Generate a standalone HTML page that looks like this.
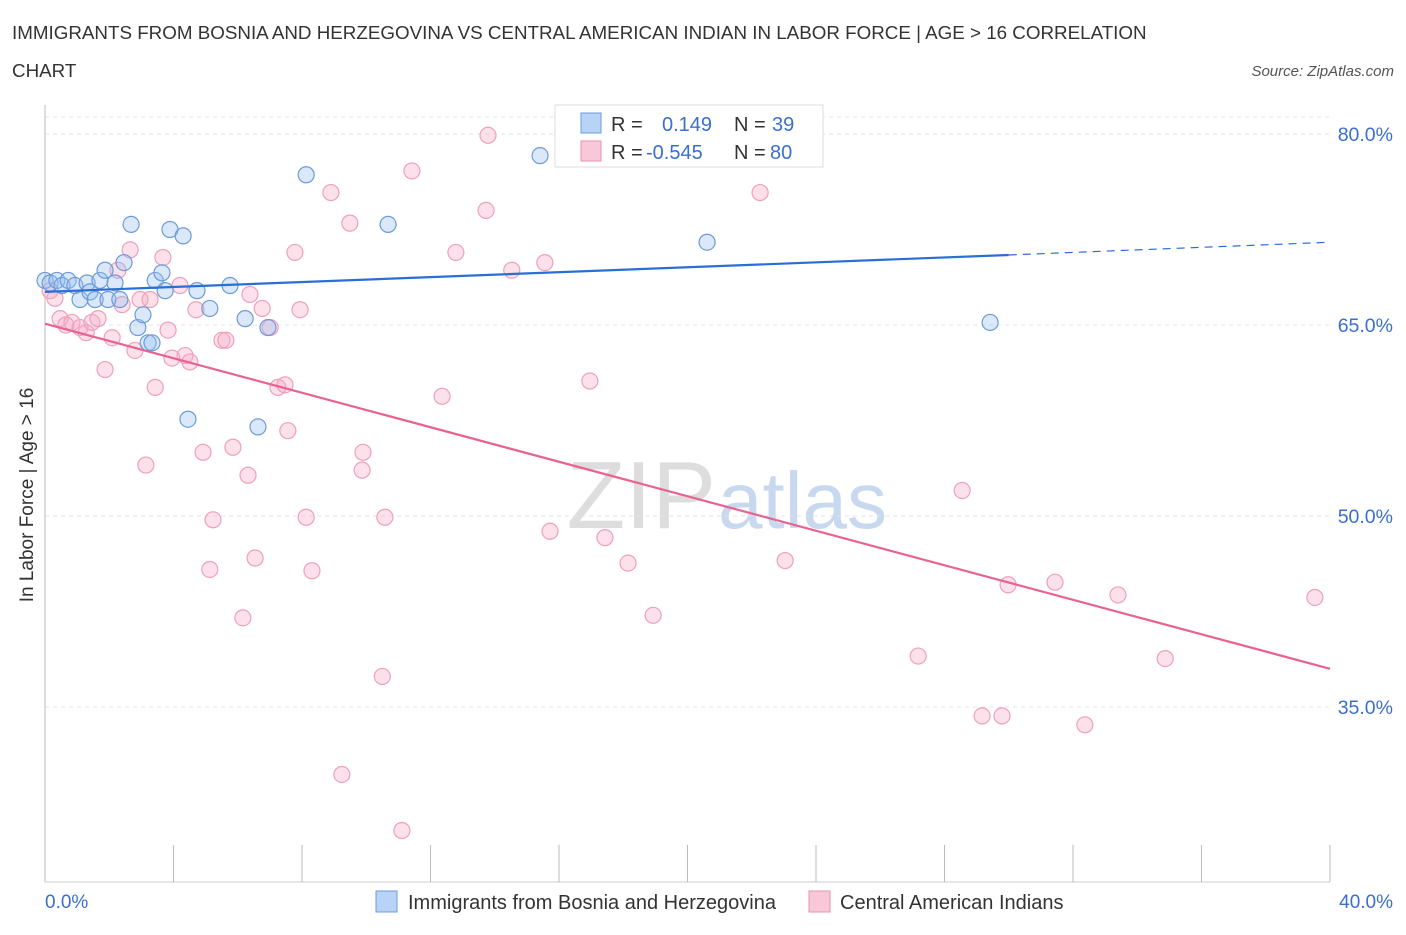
<!DOCTYPE html>
<html><head><meta charset="utf-8"><style>
body{margin:0;background:#fff;font-family:"Liberation Sans",sans-serif;}
svg text{font-family:"Liberation Sans",sans-serif;}
</style></head><body>
<svg id="chart" width="1406" height="930">
<text x="12" y="39" font-size="18.8" fill="#333">IMMIGRANTS FROM BOSNIA AND HERZEGOVINA VS CENTRAL AMERICAN INDIAN IN LABOR FORCE | AGE &gt; 16 CORRELATION</text>
<text x="12" y="77" font-size="18.8" fill="#333">CHART</text>
<text x="1394" y="76" font-size="15" fill="#555" font-style="italic" text-anchor="end">Source: ZipAtlas.com</text>
<text x="716" y="528" font-size="96" fill="#ddd" text-anchor="end" font-family="Liberation Serif">ZIP</text>
<text x="718" y="528" font-size="80" fill="#c8d8ee">atlas</text>
<g id="grid"></g><g id="axes"></g><g id="pts"></g><g id="trend"></g>
<text x="33" y="495" font-size="19" fill="#333" text-anchor="middle" transform="rotate(-90 33 495)">In Labor Force | Age &gt; 16</text>
<g>
<rect x="555" y="105" width="268" height="62" fill="#fff" stroke="#ddd"/>
<rect x="581" y="113" width="20" height="20" fill="#b8d3f5" stroke="#6a9ee0"/>
<text x="611" y="131" font-size="20" fill="#333">R =</text><text x="662" y="131" font-size="20" fill="#3a6fd0">0.149</text>
<text x="734" y="131" font-size="20" fill="#333">N =</text><text x="772" y="131" font-size="20" fill="#3a6fd0">39</text>
<rect x="581" y="141" width="20" height="20" fill="#f8c8d8" stroke="#e890b0"/>
<text x="611" y="159" font-size="20" fill="#333">R =</text><text x="646" y="159" font-size="20" fill="#3a6fd0">-0.545</text>
<text x="734" y="159" font-size="20" fill="#333">N =</text><text x="770" y="159" font-size="20" fill="#3a6fd0">80</text>
</g>
<g>
<rect x="376" y="891" width="21" height="21" fill="#b8d3f5" stroke="#6a9ee0"/>
<text x="408" y="909" font-size="20" fill="#333">Immigrants from Bosnia and Herzegovina</text>
<rect x="809" y="891" width="21" height="21" fill="#f8c8d8" stroke="#e890b0"/>
<text x="840" y="909" font-size="20" fill="#333">Central American Indians</text>
</g>
</svg>
<script>
const xTickLabels=["0.0%","40.0%"];
const yTicks=[80,65,50,35];
const blueX=[0.0,0.16,0.37,0.53,0.72,0.93,1.09,1.31,1.40,1.56,1.71,1.87,1.96,2.18,2.33,2.46,2.68,2.89,3.05,3.21,3.33,3.43,3.64,3.74,3.89,4.30,4.45,4.73,5.13,5.76,6.23,6.63,6.94,8.13,10.68,15.41,20.61,29.42];
const blueY=[68.5,68.3,68.5,68.1,68.5,68.1,67.0,68.3,67.6,67.0,68.5,69.3,67.0,68.3,67.0,69.9,72.9,64.8,65.8,63.6,63.6,68.5,69.1,67.7,72.5,72.0,57.6,67.7,66.3,68.1,65.5,57.0,64.8,76.8,72.9,78.3,71.5,65.2];
const pinkX=[0.16,0.31,0.47,0.65,0.84,1.09,1.28,1.46,1.65,1.87,2.09,2.27,2.40,2.65,2.80,2.96,3.14,3.27,3.43,3.67,3.83,3.95,4.20,4.36,4.51,4.70,4.92,5.13,5.23,5.51,5.63,5.85,6.16,6.32,6.38,6.54,6.76,7.01,7.25,7.47,7.56,7.78,7.94,8.13,8.31,8.90,9.24,9.49,9.87,9.90,10.50,10.58,11.11,11.42,12.36,12.79,13.73,13.79,14.53,15.56,15.72,16.96,17.43,18.15,18.93,22.26,23.04,27.18,28.55,29.17,29.79,29.98,31.44,32.37,33.40,34.87,39.53];
const pinkY=[67.7,67.1,65.5,65.0,65.2,64.8,64.4,65.2,65.5,61.5,64.0,69.3,66.6,70.9,63.0,67.0,54.0,67.0,60.1,70.3,64.6,62.4,68.1,62.6,62.1,66.2,55.0,45.8,49.7,63.8,63.8,55.4,42.0,53.2,67.4,46.7,66.3,64.8,60.1,60.3,56.7,70.7,66.2,49.9,45.7,75.4,29.7,73.0,53.6,55.0,37.4,49.9,25.3,77.1,59.4,70.7,74.0,79.9,69.3,69.9,48.8,60.6,48.3,46.3,42.2,75.4,46.5,39.0,52.0,34.3,34.3,44.6,44.8,33.6,43.8,38.8,43.6];
const blueTrendX=[0,30,40];
const blueTrendY=[67.6,70.5,71.5];
const pinkTrendX=[0,40];
const pinkTrendY=[65.1,38.0];
const X0=45,X1=1330,Y80=134,PXPERPCT=12.733;
const xs=v=>X0+(X1-X0)*v/40;
const ys=v=>Y80+(80-v)*PXPERPCT;
const NS="http://www.w3.org/2000/svg";
function mk(tag,attrs,parent){const e=document.createElementNS(NS,tag);for(const k in attrs)e.setAttribute(k,attrs[k]);parent.appendChild(e);return e;}
const grid=document.getElementById('grid'),axes=document.getElementById('axes'),pts=document.getElementById('pts'),trend=document.getElementById('trend');
mk('line',{x1:45,x2:1330,y1:117,y2:117,stroke:'#e4e4e4','stroke-dasharray':'4,4'},grid);
yTicks.forEach(t=>{
 const l=mk('line',{x1:45,x2:1330,y1:ys(t),y2:ys(t),stroke:'#e4e4e4','stroke-dasharray':'4,4'},grid);
 
 
 const tx=mk('text',{x:1393,y:ys(t)+7,'font-size':19.5,fill:'#3a6fd0','text-anchor':'end'},axes);
 tx.textContent=t.toFixed(1)+'%';
 
 
});
const ax=mk('line',{x1:45,x2:45,y1:105,y2:882,stroke:'#ccc'},axes);


const bx=mk('line',{x1:45,x2:1330,y1:882,y2:882,stroke:'#ccc'},axes);


for(let i=0;i<=10;i++){const x=xs(i*4);const t=mk('line',{x1:x,x2:x,y1:i==0?105:845,y2:882,stroke:'#bbb'},axes);
 
 }
const xl0=mk('text',{x:45,y:908,'font-size':19,fill:'#3a6fd0'},axes);xl0.textContent=xTickLabels[0];


const xl1=mk('text',{x:1393,y:908,'font-size':19,fill:'#3a6fd0','text-anchor':'end'},axes);xl1.textContent=xTickLabels[1];


pinkX.forEach((v,i)=>{const c=mk('circle',{cx:xs(v),cy:ys(pinkY[i]),r:8,fill:'rgba(246,170,196,0.35)',stroke:'#eea0bc','stroke-width':1.2},pts);
 
 });
blueX.forEach((v,i)=>{const c=mk('circle',{cx:xs(v),cy:ys(blueY[i]),r:8,fill:'rgba(150,190,240,0.35)',stroke:'#6d9bd8','stroke-width':1.2},pts);
 
 });
const t1=mk('line',{x1:xs(blueTrendX[0]),y1:ys(blueTrendY[0]),x2:xs(blueTrendX[1]),y2:ys(blueTrendY[1]),stroke:'#2a6fd6','stroke-width':2.2},trend);


const t2=mk('line',{x1:xs(blueTrendX[1]),y1:ys(blueTrendY[1]),x2:xs(blueTrendX[2]),y2:ys(blueTrendY[2]),stroke:'#2a6fd6','stroke-width':1.2,'stroke-dasharray':'8,6'},trend);


const t3=mk('line',{x1:xs(pinkTrendX[0]),y1:ys(pinkTrendY[0]),x2:xs(pinkTrendX[1]),y2:ys(pinkTrendY[1]),stroke:'#e8638f','stroke-width':2.2},trend);


</script>
</body></html>
